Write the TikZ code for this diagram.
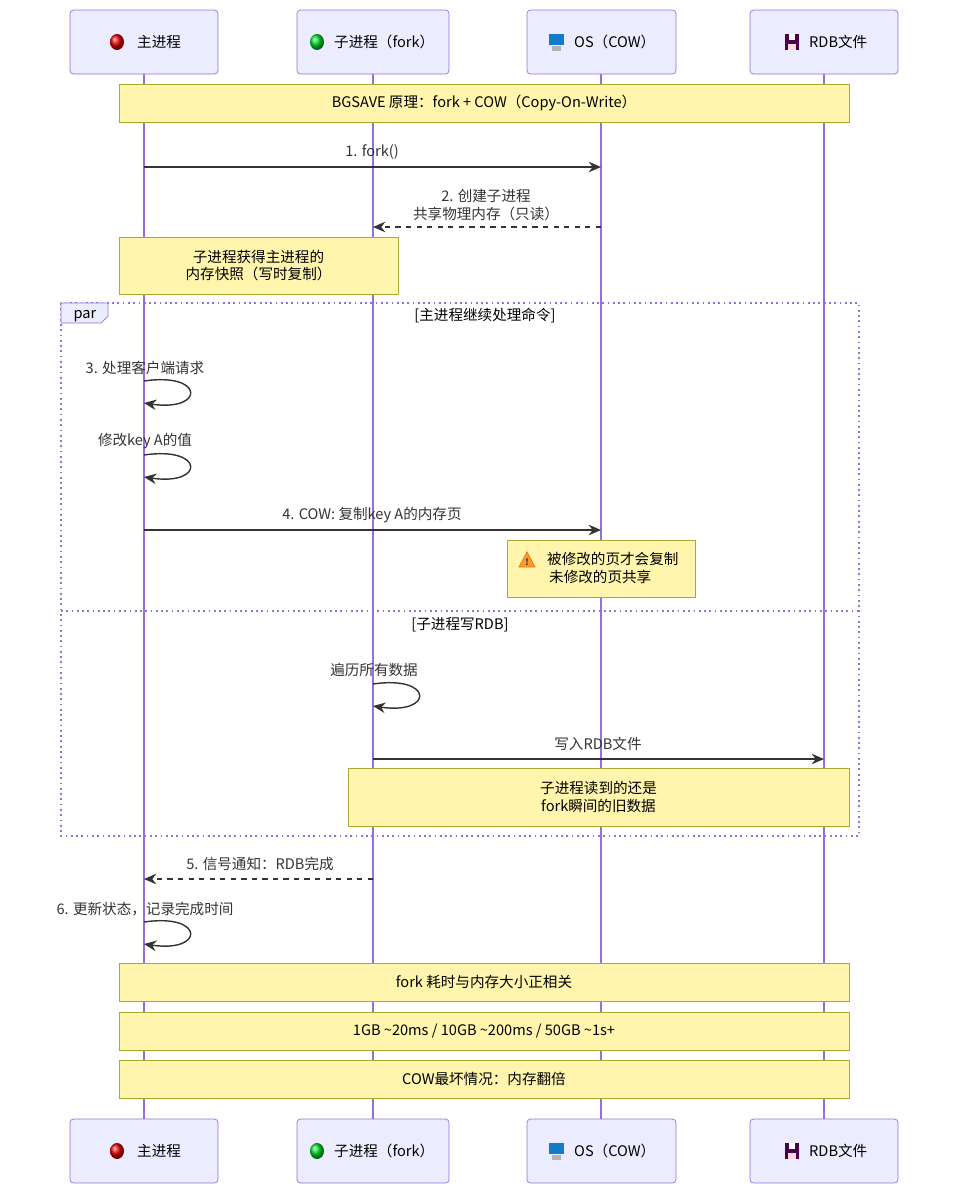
\documentclass[tikz,border=0pt]{standalone}
\usepackage{fontspec}
\setmainfont{Noto Sans CJK SC}
\usetikzlibrary{arrows.meta}
\definecolor{lifeline}{HTML}{9370DB}
\definecolor{actorfill}{HTML}{ECECFF}
\definecolor{notefill}{HTML}{FFF5AD}
\definecolor{noteline}{HTML}{AAAA33}
\definecolor{ink}{HTML}{333333}
\tikzset{
  actor/.style={draw=lifeline,fill=actorfill,rounded corners=2pt,text=black},
  note/.style={draw=noteline,fill=notefill,text=black,align=center},
  msg/.style={draw=ink,thick,-{Stealth[length=7pt,width=6pt]}},
  reply/.style={msg,dashed},
  lbl/.style={text=ink,align=center},
  life/.style={draw=lifeline,line width=1pt},
  frame/.style={draw=lifeline,line width=1pt,dotted},
}
\begin{document}
\begin{tikzpicture}[x=0.02cm,y=-0.02cm,font=\fontsize{8.3}{10}\selectfont]
\useasboundingbox (0,0) rectangle (956,1204);

% lifelines
\foreach \n/\x in {main/144,child/373,os/601,rdb/824}{
  \coordinate (\n top) at (\x,74);
  \coordinate (\n bot) at (\x,1119);
  \draw[life] (\n top) -- (\n bot);
}

% actors, top and bottom
\foreach \y/\s in {10/t,1119/b}{
  \draw[actor] (70,\y) rectangle (218,\y+64);
  \draw[actor] (297,\y) rectangle (449,\y+64);
  \draw[actor] (527,\y) rectangle (676,\y+64);
  \draw[actor] (750,\y) rectangle (898,\y+64);
  \node[anchor=west] (main\s) at (131,\y+32) {主进程};
  \node[anchor=west] (child\s) at (328,\y+32) {子进程（fork）};
  \node[anchor=west] (os\s) at (568,\y+32) {OS（COW）};
  \node[anchor=west] (rdb\s) at (803,\y+32) {RDB文件};
  \shade[ball color=red!90!black] (117,\y+32) ellipse (7 and 8);
  \shade[ball color=green!70!teal] (317,\y+32) ellipse (7 and 8);
  \fill[cyan!60!blue] (549,\y+24) rectangle (564,\y+35);
  \fill[gray!60] (552,\y+36) rectangle (561,\y+41);
  \fill[violet!60!black] (785,\y+24) rectangle (799,\y+40);
  \fill[white] (789,\y+24) rectangle (795,\y+30);
  \fill[pink!60] (788,\y+34) rectangle (796,\y+40);
}

% opening note
\node[note,minimum width=730*0.02cm,minimum height=38*0.02cm] (nbg) at (484,103)
  {BGSAVE 原理：fork + COW（Copy-On-Write）};

% 1 fork
\coordinate (m1a) at (144,167); \coordinate (m1b) at (601,167);
\draw[msg] (m1a) -- (m1b);
\node[lbl] (l1) at (372,152) {1. fork()};

% 2 create child
\coordinate (m2a) at (601,227); \coordinate (m2b) at (373,227);
\draw[reply] (m2a) -- (m2b);
\node[lbl] (l2) at (486,205) {2. 创建子进程\\共享物理内存（只读）};

\node[note,minimum width=279*0.02cm,minimum height=57*0.02cm] (nsnap) at (258.5,265.5)
  {子进程获得主进程的\\内存快照（写时复制）};

% par frame
\draw[frame] (61,303) rectangle (859,836);
\draw[draw=lifeline,fill=actorfill] (61,303) -- (108,303) -- (108,316) -- (101,323) -- (61,323) -- cycle;
\node[text=black] (par) at (85,316) {par};
\node[text=black] (g1) at (485,316) {[主进程继续处理命令]};

% 3 self loop
\coordinate (s3a) at (144,381); \coordinate (s3b) at (144,403);
\draw[msg] (s3a) .. controls (205,372) and (205,412) .. (s3b);
\node[lbl] (l3) at (145,368) {3. 处理客户端请求};

\coordinate (s4a) at (144,455); \coordinate (s4b) at (144,477);
\draw[msg] (s4a) .. controls (205,446) and (205,486) .. (s4b);
\node[lbl] (l3b) at (145,441) {修改key A的值};

% 4 cow
\coordinate (m4a) at (144,530); \coordinate (m4b) at (601,530);
\draw[msg] (m4a) -- (m4b);
\node[lbl] (l4) at (372,515) {4. COW: 复制key A的内存页};

\draw[note] (507,540) rectangle (695,597);
\node[anchor=west] (nwarn1) at (541,559) {被修改的页才会复制};
\node[anchor=west] (nwarn2) at (543,577) {未修改的页共享};
\draw[fill=orange!80,draw=orange!90!black] (519,567) -- (527,552) -- (535,567) -- cycle;
\node[font=\fontsize{5}{5}\selectfont\bfseries,text=ink] (warnmark) at (527,562) {!};

% else section
\draw[frame] (61,611) -- (859,611);
\node[text=black] (g2) at (460,625) {[子进程写RDB]};

\coordinate (s5a) at (373,684); \coordinate (s5b) at (373,706);
\draw[msg] (s5a) .. controls (434,675) and (434,715) .. (s5b);
\node[lbl] (l5) at (374,670) {遍历所有数据};

\coordinate (m6a) at (373,759); \coordinate (m6b) at (824,759);
\draw[msg] (m6a) -- (m6b);
\node[lbl] (l6) at (598,744) {写入RDB文件};

\node[note,minimum width=501*0.02cm,minimum height=58*0.02cm] (nold) at (598.5,797)
  {子进程读到的还是\\fork瞬间的旧数据};

% 5 signal
\coordinate (m7a) at (373,879); \coordinate (m7b) at (144,879);
\draw[reply] (m7a) -- (m7b);
\node[lbl] (l7) at (260,864) {5. 信号通知：RDB完成};

% 6 update
\coordinate (s8a) at (144,922); \coordinate (s8b) at (144,944);
\draw[msg] (s8a) .. controls (205,913) and (205,953) .. (s8b);
\node[lbl] (l8) at (145,909) {6. 更新状态，记录完成时间};

% closing notes
\node[note,minimum width=730*0.02cm,minimum height=38*0.02cm] (nfork) at (484,982)
  {fork 耗时与内存大小正相关};
\node[note,minimum width=730*0.02cm,minimum height=38*0.02cm] (ntime) at (484,1031)
  {1GB \textasciitilde20ms / 10GB \textasciitilde200ms / 50GB \textasciitilde1s+};
\node[note,minimum width=730*0.02cm,minimum height=38*0.02cm] (nworst) at (484,1079)
  {COW最坏情况：内存翻倍};
\end{tikzpicture}
\end{document}
